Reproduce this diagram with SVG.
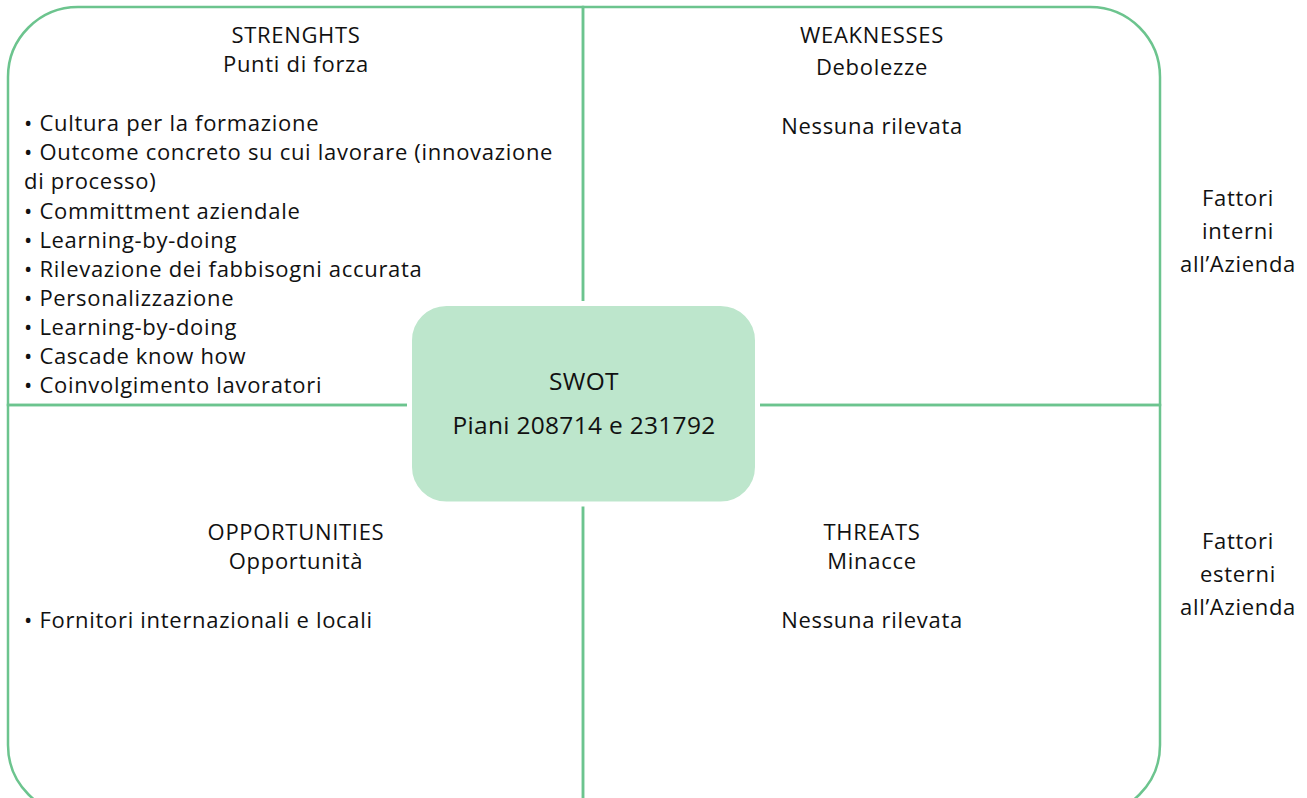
<svg xmlns="http://www.w3.org/2000/svg" width="1307" height="798" viewBox="0 0 1307 798">
<style>
.q{fill:none;stroke:#6CC48E;stroke-width:2.5}
.t{font-family:"Open Sans","Liberation Sans",sans-serif;font-size:22px;letter-spacing:0.7px;fill:#111}
.c{text-anchor:middle}
</style>
<rect width="1307" height="798" fill="#fff"/>
<g id="connectors">
<path class="q" d="M583 405 L583 7 L78 7 A70 70 0 0 0 8 77 L8 405 Z"/>
<path class="q" d="M583 7 L1090 7 A70 70 0 0 1 1160 77 L1160 405 L583 405 Z"/>
<path class="q" d="M8 405 L583 405 L583 815 L78 815 A70 70 0 0 1 8 745 Z"/>
<path class="q" d="M583 405 L1160 405 L1160 745 A70 70 0 0 1 1090 815 L583 815 Z"/>
</g>
<g id="strengths" class="t">
<text class="c" x="296" y="43">STRENGHTS</text>
<text class="c" x="296" y="72">Punti di forza</text>
<text x="24" y="131">• Cultura per la formazione</text>
<text x="24" y="160">• Outcome concreto su cui lavorare (innovazione</text>
<text x="24" y="189">di processo)</text>
<text x="24" y="219">• Committment aziendale</text>
<text x="24" y="248">• Learning-by-doing</text>
<text x="24" y="277">• Rilevazione dei fabbisogni accurata</text>
<text x="24" y="306">• Personalizzazione</text>
<text x="24" y="335">• Learning-by-doing</text>
<text x="24" y="364">• Cascade know how</text>
<text x="24" y="393">• Coinvolgimento lavoratori</text>
</g>
<g id="weaknesses" class="t">
<text class="c" x="872" y="43">WEAKNESSES</text>
<text class="c" x="872" y="75">Debolezze</text>
<text class="c" x="872" y="134">Nessuna rilevata</text>
</g>
<g id="opportunities" class="t">
<text class="c" x="296" y="540">OPPORTUNITIES</text>
<text class="c" x="296" y="569">Opportunità</text>
<text x="24" y="628">• Fornitori internazionali e locali</text>
</g>
<g id="threats" class="t">
<text class="c" x="872" y="540">THREATS</text>
<text class="c" x="872" y="569">Minacce</text>
<text class="c" x="872" y="628">Nessuna rilevata</text>
</g>
<g id="swot">
<rect x="409.5" y="303.5" width="348" height="200.5" rx="37" fill="#BDE6CC" stroke="#fff" stroke-width="5"/>
<text class="t c" x="584" y="390" style="font-size:24.5px;letter-spacing:0.3px">SWOT</text>
<text class="t c" x="584" y="434" style="font-size:24.5px;letter-spacing:0.3px">Piani 208714 e 231792</text>
</g>
<g id="internal" class="t">
<text class="c" x="1238" y="206">Fattori</text>
<text class="c" x="1238" y="239">interni</text>
<text class="c" x="1238" y="272">all’Azienda</text>
</g>
<g id="external" class="t">
<text class="c" x="1238" y="549">Fattori</text>
<text class="c" x="1238" y="582">esterni</text>
<text class="c" x="1238" y="615">all’Azienda</text>
</g>
</svg>
